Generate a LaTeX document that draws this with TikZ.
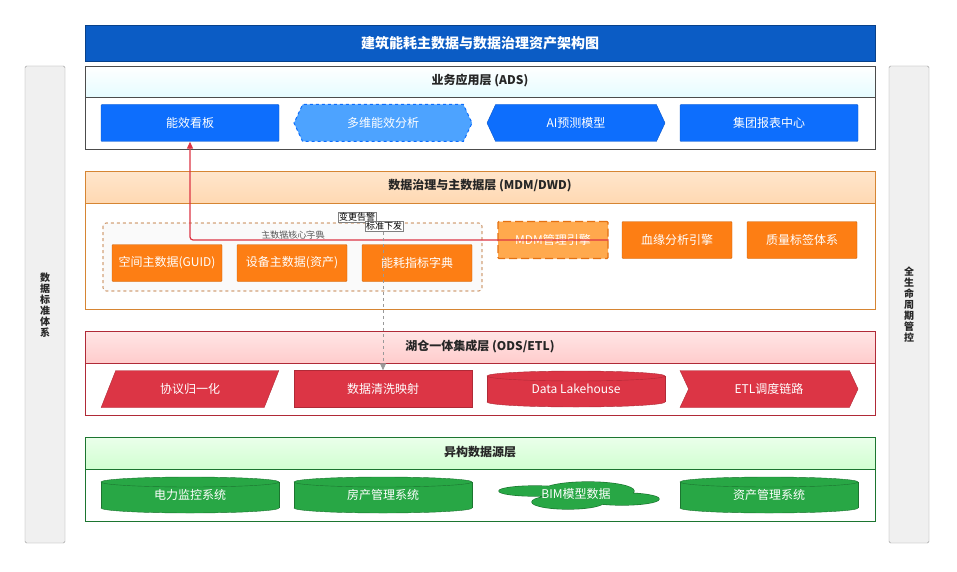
\documentclass[tikz,border=0pt]{standalone}
\usepackage{fontspec}
\setmainfont{Noto Sans CJK SC}
\usetikzlibrary{shapes.geometric,shapes.symbols,shapes.misc,arrows.meta}
\definecolor{tblue}{HTML}{0B5CC5}
\definecolor{nblue}{HTML}{0D6EFD}
\definecolor{lblue}{HTML}{4DA3FF}
\definecolor{norange}{HTML}{FD7E14}
\definecolor{lorange}{HTML}{FFA94D}
\definecolor{nred}{HTML}{DC3545}
\definecolor{ngreen}{HTML}{28A745}
\begin{document}
\begin{tikzpicture}[x=1pt,y=-1pt,
  lay/.style={draw=#1,line width=0.7pt},
  hdr/.style={font=\fontsize{12}{14}\selectfont\bfseries,text=black!85},
  nd/.style={font=\fontsize{12}{14}\selectfont,text=white,minimum width=178pt,minimum height=37pt,inner sep=0pt},
  sm/.style={nd,minimum width=110pt},
  side/.style={draw=black!40,fill=black!6,rounded corners=1.5pt},
  stxt/.style={font=\fontsize{10}{11}\selectfont\bfseries,align=center,text=black!85},
  lbl/.style={font=\fontsize{9}{10}\selectfont,fill=white,draw=black!50,inner sep=0.8pt,line width=0.4pt}]
\useasboundingbox (0,0) rectangle (957,572);
\fill[white] (0,0) rectangle (957,572);
% title
\fill[tblue] (85,25) rectangle (875,61);
\draw[tblue!70!black] (85,25) rectangle (875,61);
\node[font=\fontsize{14}{16}\selectfont\bfseries,text=white] (title) at (480,43) {建筑能耗主数据与数据治理资产架构图};
% sides
\draw[side] (25,66) rectangle (65,543);
\node[stxt] (lside) at (45,305) {数\\据\\标\\准\\体\\系};
\draw[side] (889,66) rectangle (929,543);
\node[stxt] (rside) at (909,305) {全\\生\\命\\周\\期\\管\\控};
% ADS
\draw[lay=black!70,fill=white] (85,97) rectangle (875,149);
\draw[lay=black!70,top color=white,bottom color=blue!12!cyan!10] (85,66) rectangle (875,97);
\node[hdr] (hads) at (480,81) {业务应用层 (ADS)};
\node[nd,fill=nblue,draw=nblue!80!black,rounded corners=1pt] (a1) at (190,123) {能效看板};
\node[nd,shape=signal,signal to=west and east,signal pointer angle=130,fill=lblue,draw=nblue,dashed,line width=1pt] (a2) at (383,123) {多维能效分析};
\node[nd,shape=signal,signal to=west and east,signal pointer angle=130,fill=nblue,draw=nblue!80!black] (a3) at (576,123) {AI预测模型};
\node[nd,fill=nblue,draw=nblue!80!black,rounded corners=1pt] (a4) at (769,123) {集团报表中心};
% MDM
\draw[lay=orange!80!black!80,fill=white] (85,203) rectangle (875,309);
\draw[lay=orange!80!black!80,top color=orange!20,bottom color=orange!30] (85,171) rectangle (875,203);
\node[hdr] (hmdm) at (480,186) {数据治理与主数据层 (MDM/DWD)};
\draw[norange!70!black,dashed,rounded corners=3pt,fill=black!2,line width=0.6pt] (103,223) rectangle (482,291);
\node[font=\fontsize{9}{10}\selectfont,text=black!65,xslant=-0.2] (grp) at (293,235) {主数据核心字典};
\node[sm,fill=norange,draw=norange!80!black,rounded corners=1pt] (m1) at (167,263) {空间主数据(GUID)};
\node[sm,fill=norange,draw=norange!80!black,rounded corners=1pt] (m2) at (292,263) {设备主数据(资产)};
\node[sm,fill=norange,draw=norange!80!black,rounded corners=1pt] (m3) at (417,263) {能耗指标字典};
\node[sm,fill=lorange,draw=norange!90!black,dashed,dash pattern=on 8pt off 4pt,line width=1.2pt,rounded corners=1pt] (m4) at (553,240) {MDM管理引擎};
\node[sm,fill=norange,draw=norange!80!black,rounded corners=1pt] (m5) at (677,240) {血缘分析引擎};
\node[sm,fill=norange,draw=norange!80!black,rounded corners=1pt] (m6) at (802,240) {质量标签体系};
% ODS
\draw[lay=nred!80!black,fill=white] (85,363) rectangle (875,415);
\draw[lay=nred!80!black,top color=red!10,bottom color=red!20] (85,331) rectangle (875,363);
\node[hdr] (hods) at (480,346) {湖仓一体集成层 (ODS/ETL)};
\node[nd,shape=trapezium,trapezium left angle=62,trapezium right angle=118,trapezium stretches=true,minimum width=178pt,fill=nred,draw=nred!80!black] (o1) at (190,389) {协议归一化};
\node[nd,fill=nred,draw=nred!80!black] (o2) at (383,389) {数据清洗映射};
\node[nd,shape=signal,signal to=east,signal from=west,signal pointer angle=130,fill=nred,draw=nred!80!black] (o4) at (769,389) {ETL调度链路};
% cylinder o3
\fill[nred,draw=nred!80!black] (576,402) ellipse (89 and 5);
\fill[nred] (487,376) rectangle (665,402);
\draw[nred!80!black] (487,376) -- (487,402) (665,376) -- (665,402);
\fill[nred,draw=nred!80!black] (576,376) ellipse (89 and 5);
\node[nd] (o3) at (576,389) {Data Lakehouse};
% sources
\draw[lay=ngreen!70!black,fill=white] (85,469) rectangle (875,521);
\draw[lay=ngreen!70!black,top color=green!8,bottom color=green!18] (85,437) rectangle (875,469);
\node[hdr] (hsrc) at (480,452) {异构数据源层};
\foreach \n/\cx/\t in {s1/190/电力监控系统,s2/383/房产管理系统,s4/769/资产管理系统}{
  \fill[ngreen,draw=ngreen!70!black] (\cx,508) ellipse (89 and 5);
  \fill[ngreen] (\cx-89,482) rectangle (\cx+89,508);
  \draw[ngreen!70!black] (\cx-89,482) -- (\cx-89,508) (\cx+89,482) -- (\cx+89,508);
  \fill[ngreen,draw=ngreen!70!black] (\cx,482) ellipse (89 and 5);
  \node[nd] (\n) at (\cx,495) {\t};
}
% cloud s3
\def\cloudparts{(535,491) ellipse (36 and 5) (588,491) ellipse (46 and 9) (622,499) ellipse (37 and 6) (568,502) ellipse (36 and 7)}
\draw[ngreen!70!black,line width=1.2pt] \cloudparts;
\fill[ngreen] \cloudparts;
\node[nd,minimum width=150pt,minimum height=26pt] (s3) at (576,494) {BIM模型数据};
% connectors
\draw[nred,line width=1.2pt,-{Triangle[length=7pt,width=6pt]},rounded corners=3pt] (m4.east) -- (190,240) -- (a1.south);
\node[lbl] (l1) at (357,217) {变更告警};
\draw[black!40,dashed,line width=0.8pt,-{Triangle[length=7pt,width=6pt]}] (383,226) -- (o2.north);
\node[lbl] (l2) at (384,226) {标准下发};
\end{tikzpicture}
\end{document}
